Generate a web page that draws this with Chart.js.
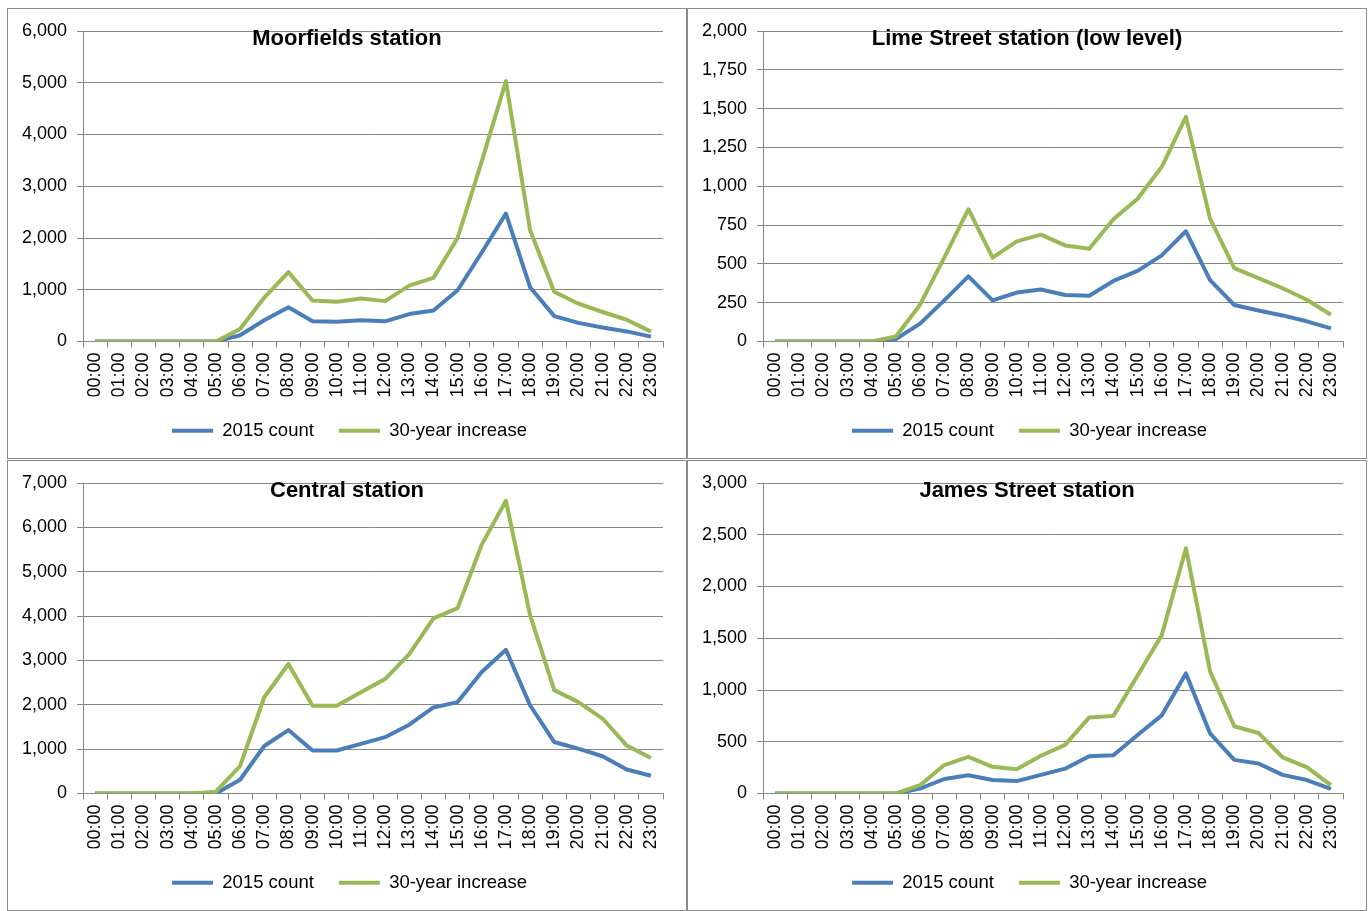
<!DOCTYPE html>
<html>
<head>
<meta charset="utf-8">
<script src="https://cdn.jsdelivr.net/npm/chart.js@4/dist/chart.umd.min.js"></script>
<style>
  body { margin: 0; background: #fff; }
  .panel {
    position: absolute;
    width: 680px;
    height: 451px;
    border: 1px solid #8c8c8c;
    box-sizing: border-box;
    background: #fff;
  }
  .panel canvas { display: block; }
</style>
</head>
<body>
<div class="panel" style="left:7px;top:8px"><canvas id="chart0" width="678" height="449"></canvas></div>
<div class="panel" style="left:687px;top:8px"><canvas id="chart1" width="678" height="449"></canvas></div>
<div class="panel" style="left:7px;top:460px"><canvas id="chart2" width="678" height="449"></canvas></div>
<div class="panel" style="left:687px;top:460px"><canvas id="chart3" width="678" height="449"></canvas></div>
<script>
const hours = ['00:00', '01:00', '02:00', '03:00', '04:00', '05:00', '06:00', '07:00',
  '08:00', '09:00', '10:00', '11:00', '12:00', '13:00', '14:00', '15:00',
  '16:00', '17:00', '18:00', '19:00', '20:00', '21:00', '22:00', '23:00'];

const seriesNames = ['2015 count', '30-year increase'];

const moorfieldsCount = [0, 0, 0, 0, 0, 0, 120, 410, 660, 390, 380, 410, 390, 530, 600, 990, 1720, 2470, 1050, 490, 360, 270, 195, 95];
const moorfieldsIncrease = [0, 0, 0, 0, 0, 0, 240, 850, 1340, 790, 770, 830, 780, 1080, 1230, 2000, 3480, 5030, 2150, 960, 730, 570, 420, 190];

const limeCount = [0, 0, 0, 0, 0, 15, 115, 265, 420, 265, 315, 335, 300, 295, 390, 455, 555, 710, 395, 235, 200, 168, 130, 85];
const limeIncrease = [0, 0, 0, 0, 0, 32, 237, 540, 852, 540, 645, 688, 619, 598, 787, 920, 1125, 1447, 791, 473, 408, 343, 269, 172];

const centralCount = [0, 0, 0, 0, 0, 0, 310, 1070, 1430, 970, 970, 1120, 1270, 1550, 1940, 2060, 2740, 3240, 1990, 1160, 1010, 840, 540, 400];
const centralIncrease = [0, 0, 0, 0, 0, 40, 620, 2170, 2920, 1980, 1980, 2280, 2580, 3140, 3950, 4180, 5610, 6600, 4020, 2330, 2060, 1690, 1080, 800];

const jamesCount = [0, 0, 0, 0, 0, 0, 48, 140, 177, 130, 120, 180, 240, 360, 370, 565, 755, 1160, 580, 325, 290, 180, 130, 45];
const jamesIncrease = [0, 0, 0, 0, 0, 0, 80, 275, 354, 258, 235, 365, 470, 735, 750, 1140, 1530, 2370, 1180, 650, 585, 350, 255, 80];

const stationTitles = ['Moorfields station', 'Lime Street station (low level)', 'Central station', 'James Street station'];
const yMaxes = [6000, 2000, 7000, 3000];
const ySteps = [1000, 250, 1000, 500];

const countSeries = [moorfieldsCount, limeCount, centralCount, jamesCount];
const increaseSeries = [moorfieldsIncrease, limeIncrease, centralIncrease, jamesIncrease];

const BLUE = '#4a7ebb';
const GREEN = '#98b954';
const GRID = '#868686';
const FONT = '"Liberation Sans", Arial, sans-serif';

// title sits over the plot like in the Excel original
const stationTitle = {
  id: 'stationTitle',
  afterDraw(chart, args, opts) {
    const ctx = chart.ctx;
    ctx.save();
    ctx.font = 'bold 22px ' + FONT;
    ctx.fillStyle = '#000';
    ctx.textAlign = 'center';
    ctx.textBaseline = 'alphabetic';
    ctx.fillText(opts.text, chart.width / 2, 36);
    ctx.restore();
  }
};

for (let i = 0; i < 4; i++) {
  const ctx = document.getElementById('chart' + i).getContext('2d');
  new Chart(ctx, {
    type: 'line',
    data: {
      labels: hours,
      datasets: [
        {
          label: seriesNames[0],
          data: countSeries[i],
          borderColor: BLUE,
          backgroundColor: BLUE,
          borderWidth: 4,
          pointRadius: 0,
          tension: 0,
          fill: false,
          borderJoinStyle: 'round',
          order: 2
        },
        {
          label: seriesNames[1],
          data: increaseSeries[i],
          borderColor: GREEN,
          backgroundColor: GREEN,
          borderWidth: 4,
          pointRadius: 0,
          tension: 0,
          fill: false,
          borderJoinStyle: 'round',
          order: 1
        }
      ]
    },
    options: {
      responsive: false,
      animation: false,
      layout: { padding: { left: 5, top: 22, right: 0, bottom: 8 } },
      plugins: {
        tooltip: { enabled: false },
        title: { display: false },
        stationTitle: { text: stationTitles[i] },
        legend: {
          position: 'bottom',
          labels: {
            font: { family: FONT, size: 18.5 },
            color: '#000',
            boxWidth: 41,
            boxHeight: 4,
            padding: 25,
            sort: (a, b) => a.datasetIndex - b.datasetIndex,
            generateLabels: chart => Chart.defaults.plugins.legend.labels.generateLabels(chart)
              .map(l => Object.assign(l, { lineWidth: 0, fillStyle: l.strokeStyle }))
          }
        }
      },
      scales: {
        x: {
          offset: true,
          afterFit: scale => { scale.height = 55; },
          grid: {
            display: true,
            drawOnChartArea: false,
            drawTicks: true,
            tickLength: 6,
            offset: true,
            color: GRID
          },
          border: { display: true, color: GRID },
          ticks: {
            autoSkip: false,
            minRotation: 90,
            maxRotation: 90,
            padding: 5,
            color: '#000',
            font: { family: FONT, size: 18 }
          }
        },
        y: {
          min: 0,
          max: yMaxes[i],
          afterFit: scale => { scale.width = 70; },
          grid: {
            color: GRID,
            drawTicks: true,
            tickLength: 6
          },
          border: { display: true, color: GRID },
          ticks: {
            stepSize: ySteps[i],
            padding: 10,
            color: '#000',
            font: { family: FONT, size: 18 },
            callback: v => v.toLocaleString('en-US')
          }
        },
        // empty right-hand margin so the legend stays centred on the panel
        spacer: {
          type: 'linear',
          position: 'right',
          afterFit: scale => { scale.width = 23; },
          grid: { display: false },
          border: { display: false },
          ticks: { display: false }
        }
      }
    },
    plugins: [stationTitle]
  });
}
</script>
</body>
</html>
